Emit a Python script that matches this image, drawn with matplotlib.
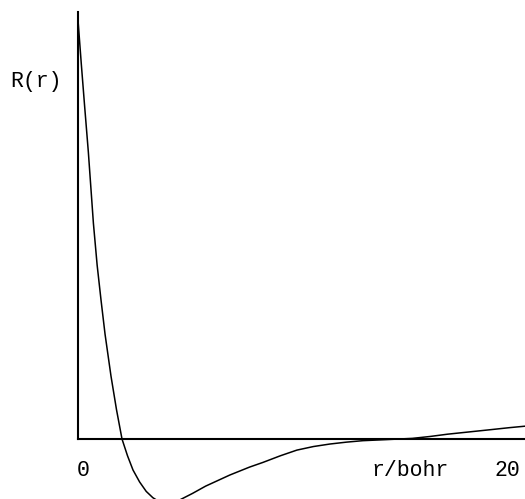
import matplotlib
matplotlib.use("Agg")
import matplotlib.pyplot as plt

# radial function values (r in bohr)
r_values = [0, 0.15, 0.3, 0.47, 0.70, 0.87, 1.05, 1.23, 1.5, 1.75, 2.0, 2.25, 2.5,
            2.8, 3.1, 3.4, 3.7, 4.0, 4.3, 4.64, 5.2, 5.8, 6.9, 7.8, 8.4, 9.2, 9.95,
            10.7, 11.45, 12.2, 12.95, 14.0, 15.2, 16.0, 16.8, 17.8, 18.8, 19.6, 20.4]
R_values = [2.0, 1.79, 1.59, 1.37, 1.03, 0.83, 0.66, 0.50, 0.30, 0.14, 0.0, -0.08, -0.148,
            -0.205, -0.25, -0.28, -0.30, -0.31, -0.305, -0.29, -0.26, -0.225, -0.172, -0.134,
            -0.112, -0.08, -0.053, -0.036, -0.024, -0.015, -0.008, -0.003, 0.003, 0.012,
            0.023, 0.034, 0.045, 0.054, 0.062]

x_tick_labels = ["0", "20"]
x_label = "r/bohr"
y_label = "R(r)"

W, H = 525, 499
fig = plt.figure(figsize=(W / 100, H / 100), dpi=100)
fig.patch.set_facecolor("white")

# axes geometry in pixels
ax_left, ax_right, ax_top, ax_bottom = 78, 525, 12, 499
ax = fig.add_axes([ax_left / W, 1 - ax_bottom / H, (ax_right - ax_left) / W, (ax_bottom - ax_top) / H])

px_per_r = 22.0
px_per_R = 209.5
zero_y = 439
xmax = (ax_right - ax_left) / px_per_r
ymax = (zero_y - ax_top) / px_per_R
ymin = -(ax_bottom - zero_y) / px_per_R
ax.set_xlim(0, xmax)
ax.set_ylim(ymin, ymax)

ax.plot(r_values, R_values, color="black", lw=1.1, solid_joinstyle="round")

for s in ["top", "right"]:
    ax.spines[s].set_visible(False)
ax.spines["left"].set_bounds(0, ymax)
ax.spines["left"].set_linewidth(1.5)
ax.spines["bottom"].set_position(("data", 0))
ax.spines["bottom"].set_linewidth(1.5)
ax.set_xticks([])
ax.set_yticks([])
ax.patch.set_alpha(0)

font = dict(family="Liberation Mono", fontsize=15.5, color="black")
def px(x, y):
    return x / W, 1 - y / H

fig.text(*px(36, 81), y_label, ha="center", va="center", **font)
fig.text(*px(83, 470), x_tick_labels[0], ha="center", va="center", **font)
fig.text(*px(410, 470), x_label, ha="center", va="center", **font)
fig.text(*px(507, 470), x_tick_labels[1], ha="center", va="center", **font)

fig.savefig("out.png", dpi=100, facecolor="white")
